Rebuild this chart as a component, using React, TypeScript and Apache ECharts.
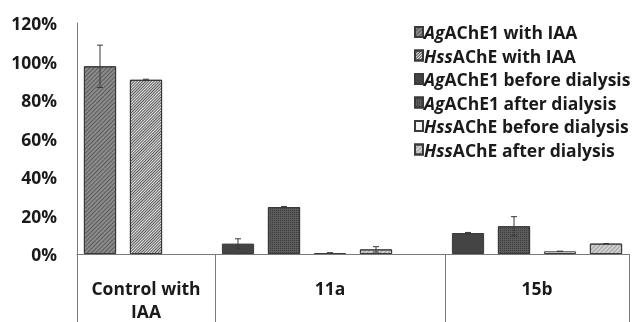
import React, { useEffect, useRef } from "react";
import * as echarts from "echarts";

// 12 bar slots along the x axis, grouped into three labelled groups
const slotIds = [
  "c1", "c2", "c3",
  "a1", "a2", "a3", "a4", "a5",
  "b1", "b2", "b3", "b4",
];
const groupNames = [["Control with", "IAA"], ["11a"], ["15b"]];
const groupStart = [0, 3, 8];
const groupEnd = [2, 7, 11];

const seriesNames = [
  "AgAChE1 with IAA",
  "HssAChE with IAA",
  "AgAChE1 before dialysis",
  "AgAChE1 after dialysis",
  "HssAChE before dialysis",
  "HssAChE after dialysis",
];

const agWithIAA = [97.5, null, null, null, null, null, null, null, null, null, null, null];
const hssWithIAA = [null, 90.5, null, null, null, null, null, null, null, null, null, null];
const agBefore = [null, null, null, 5.4, null, null, null, null, 10.9, null, null, null];
const agAfter = [null, null, null, null, 24.4, null, null, null, null, 14.4, null, null];
const hssBefore = [null, null, null, null, null, 0.5, null, null, null, null, 1.4, null];
const hssAfter = [null, null, null, null, null, null, 2.4, null, null, null, null, 5.4];

const agWithIAAErr = [11, null, null, null, null, null, null, null, null, null, null, null];
const hssWithIAAErr = [null, 0.3, null, null, null, null, null, null, null, null, null, null];
const agBeforeErr = [null, null, null, 2.5, null, null, null, null, 0.3, null, null, null];
const agAfterErr = [null, null, null, null, 0.3, null, null, null, null, 5.0, null, null];
const hssBeforeErr = [null, null, null, null, null, 0.2, null, null, null, null, 0, null];
const hssAfterErr = [null, null, null, null, null, null, 1.4, null, null, null, null, 0];

const yTicks = [0, 20, 40, 60, 80, 100, 120];

const FONT = "'Open Sans', sans-serif";
const FS = 17.5;
const AXIS = "#7a7a7a";
const TXT = "#1a1a1a";

export default function App() {
  const ref = useRef<HTMLDivElement>(null);
  useEffect(() => {
    if (!ref.current) return;
    const chart = echarts.init(ref.current, null, { renderer: "svg" });
    const values = [agWithIAA, hssWithIAA, agBefore, agAfter, hssBefore, hssAfter];
    const errs = [agWithIAAErr, hssWithIAAErr, agBeforeErr, agAfterErr, hssBeforeErr, hssAfterErr];
    const styles: any[] = [
      {
        color: "#8c8c8c",
        decal: { symbol: "rect", symbolSize: 1, dashArrayX: [1, 0], dashArrayY: [1, 2], rotation: -Math.PI / 4, color: "rgba(40,40,40,0.5)" },
      },
      {
        color: "#ebebeb",
        decal: { symbol: "rect", symbolSize: 1, dashArrayX: [1, 0], dashArrayY: [1, 1], rotation: -Math.PI / 4, color: "rgba(30,30,30,0.75)" },
      },
      { color: "#444444", decal: "none" },
      {
        color: "#5c5c5c",
        decal: { symbol: "rect", symbolSize: 1, dashArrayX: [1, 1], dashArrayY: [1, 1], rotation: 0, color: "rgba(25,25,25,0.5)" },
      },
      { color: "#f4f4f4", decal: "none" },
      {
        color: "#d0d0d0",
        decal: { symbol: "rect", symbolSize: 1, dashArrayX: [1, 0], dashArrayY: [1, 2], rotation: -Math.PI / 4, color: "rgba(90,90,90,0.4)" },
      },
    ];

    const errData: any[] = [];
    values.forEach((arr, s) => {
      arr.forEach((v, i) => {
        if (v != null && errs[s][i] != null) errData.push([i, v, errs[s][i]]);
      });
    });

    const barSeries = seriesNames.map((name, s) => ({
      name,
      type: "bar",
      stack: "all",
      barCategoryGap: "30%",
      data: values[s],
      itemStyle: { ...styles[s], borderColor: "#3a3a3a", borderWidth: 1 },
    }));

    chart.setOption({
      animation: false,
      grid: { left: 77, right: 10, top: 23, bottom: 68 },
      legend: {
        orient: "vertical",
        left: 409,
        top: 18,
        icon: "rect",
        itemWidth: 8,
        itemHeight: 10,
        itemGap: 5.5,
        data: seriesNames,
        formatter: (name: string) => name.replace(/^(Ag|Hss)/, "{i|$1}"),
        textStyle: {
          fontFamily: FONT,
          fontWeight: "bold",
          fontSize: FS,
          lineHeight: 18,
          color: TXT,
          padding: [0, 0, 0, -4],
          rich: { i: { fontStyle: "italic", fontWeight: "bold", fontSize: FS, fontFamily: FONT, color: TXT, lineHeight: 18 } },
        },
      },
      xAxis: {
        type: "category",
        data: slotIds,
        axisLine: { show: true, lineStyle: { color: AXIS, width: 1 } },
        axisTick: {
          show: true,
          interval: (i: number) => groupStart.includes(i),
          length: 68,
          lineStyle: { color: AXIS, width: 1 },
        },
        axisLabel: { show: false },
      },
      yAxis: {
        type: "value",
        min: yTicks[0],
        max: yTicks[yTicks.length - 1],
        interval: 20,
        splitLine: { show: false },
        axisLine: { show: true, lineStyle: { color: AXIS, width: 1 } },
        axisTick: { show: false },
        axisLabel: {
          formatter: "{value}%",
          margin: 20,
          fontFamily: FONT,
          fontWeight: "bold",
          fontSize: FS,
          color: TXT,
        },
      },
      series: [
        ...barSeries,
        {
          type: "custom",
          name: "err",
          data: errData,
          z: 10,
          renderItem: (params: any, api: any) => {
            const x = api.value(0);
            const v = api.value(1);
            const e = api.value(2);
            const top = api.coord([x, v + e]);
            const bot = api.coord([x, v - e]);
            const w = 3;
            const st = { stroke: "#3a3a3a", lineWidth: 1 };
            return {
              type: "group",
              children: [
                { type: "line", shape: { x1: top[0], y1: top[1], x2: bot[0], y2: bot[1] }, style: st },
                { type: "line", shape: { x1: top[0] - w, y1: top[1], x2: top[0] + w, y2: top[1] }, style: st },
                { type: "line", shape: { x1: bot[0] - w, y1: bot[1], x2: bot[0] + w, y2: bot[1] }, style: st },
              ],
            };
          },
        },
      ],
    });

    const base = chart.convertToPixel({ yAxisIndex: 0 }, 0) as number;
    const texts: any[] = [];
    groupNames.forEach((lines, k) => {
      const x0 = chart.convertToPixel({ xAxisIndex: 0 }, groupStart[k]) as number;
      const x1 = chart.convertToPixel({ xAxisIndex: 0 }, groupEnd[k]) as number;
      lines.forEach((line, j) => {
        texts.push({
          type: "text",
          x: (x0 + x1) / 2,
          y: base + 34 + j * 23,
          style: {
            text: line,
            align: "center",
            verticalAlign: "middle",
            fontFamily: FONT,
            fontWeight: "bold",
            fontSize: FS,
            lineHeight: 17,
            fill: TXT,
          },
        });
      });
    });
    chart.setOption({ graphic: texts });

    return () => chart.dispose();
  }, []);
  return (
    <div
      ref={ref}
      style={{ position: "fixed", left: 0, top: 0, width: 639, height: 322 }}
    />
  );
}
